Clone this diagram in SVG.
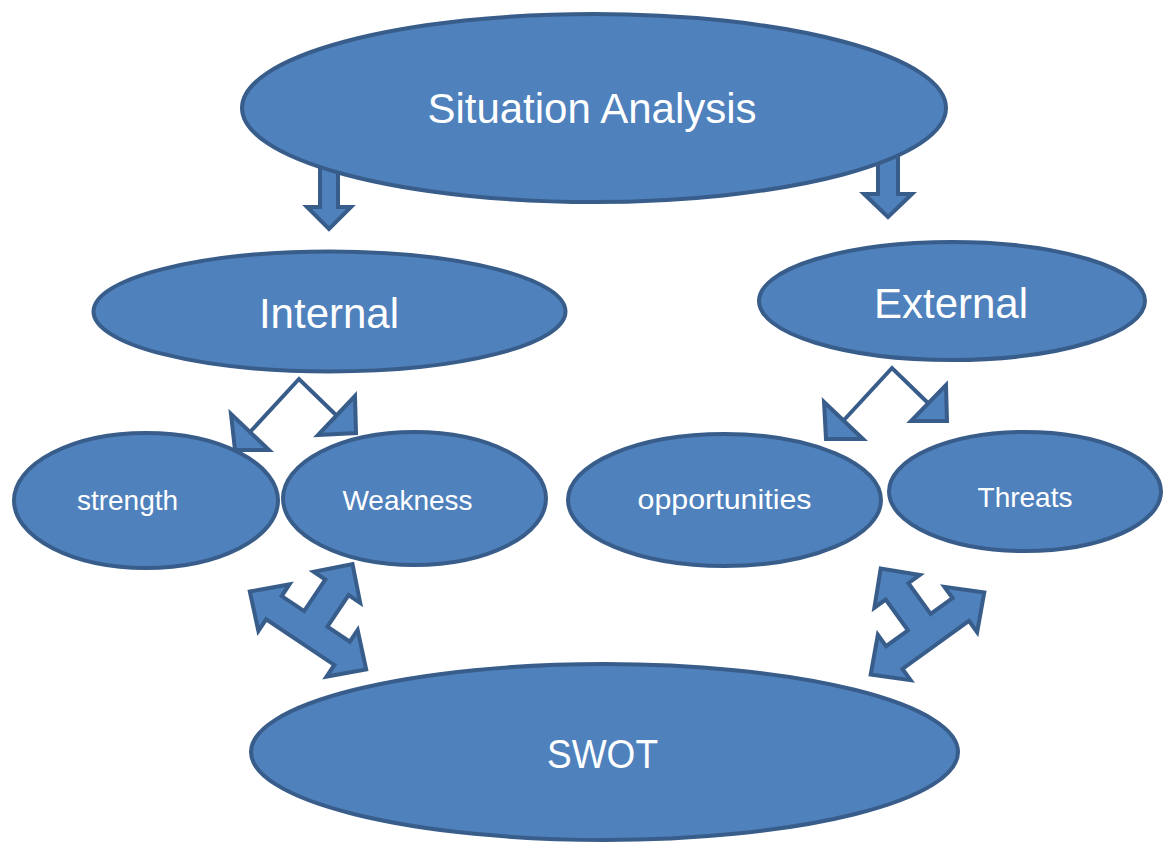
<svg xmlns="http://www.w3.org/2000/svg" width="1168" height="843" viewBox="0 0 1168 843">
<style>
.shape{fill:#4F81BD;stroke:#385D8A;stroke-width:4;stroke-linejoin:miter}
.line{fill:none;stroke:#385D8A;stroke-width:4;stroke-linejoin:miter}
.lbl{font-family:"Liberation Sans",Arial,sans-serif;fill:#FFFFFF;text-anchor:middle}
</style>
<defs>
<polygon id="ylr" points="-70,0 -41,-28 -41,-14 -14,-14 -14,-52 -28,-52 0,-80 28,-52 14,-52 14,-14 41,-14 41,-28 70,0 41,28 41,14 -41,14 -41,28"/>
</defs>
<rect width="1168" height="843" fill="#FFFFFF"/>
<g id="connectors">
<polygon class="shape" points="320,160 338,160 338,207 351,207 329,229 307,207 320,207"/>
<polygon class="shape" points="878,150 898,150 898,194 912,194 888,217 864,194 878,194"/>
</g>
<g id="situation">
<ellipse class="shape" cx="594" cy="108" rx="352" ry="94"/>
<text class="lbl" x="592" y="123" font-size="42">Situation Analysis</text>
</g>
<g id="internal">
<ellipse class="shape" cx="329.5" cy="311.5" rx="236" ry="60"/>
<text class="lbl" x="329" y="328" font-size="42">Internal</text>
</g>
<g id="external">
<ellipse class="shape" cx="952" cy="301" rx="193" ry="59"/>
<text class="lbl" x="951" y="318" font-size="42">External</text>
</g>
<g id="strength">
<ellipse class="shape" cx="146" cy="500.5" rx="132" ry="67.5"/>
<text class="lbl" x="127.5" y="510" font-size="28">strength</text>
</g>
<g id="weakness">
<ellipse class="shape" cx="414.5" cy="498.5" rx="131.5" ry="66.5"/>
<text class="lbl" x="407.5" y="510" font-size="28">Weakness</text>
</g>
<g id="opportunities">
<ellipse class="shape" cx="724.5" cy="500" rx="156.5" ry="66"/>
<text class="lbl" x="724.5" y="509" font-size="28" textLength="174" lengthAdjust="spacingAndGlyphs">opportunities</text>
</g>
<g id="threats">
<ellipse class="shape" cx="1025" cy="491.5" rx="136" ry="59.5"/>
<text class="lbl" x="1025" y="507" font-size="28">Threats</text>
</g>
<g id="swot">
<ellipse class="shape" cx="604.5" cy="752" rx="353.5" ry="88"/>
<text class="lbl" x="602.5" y="768" font-size="40" textLength="111" lengthAdjust="spacingAndGlyphs">SWOT</text>
</g>
<g id="connectors-2">
<polyline class="line" points="251,431 299,379 336,415"/>
<polygon class="shape" points="231,414 235,450 269,450"/>
<polygon class="shape" points="355,396 356,433 318,435"/>
<polyline class="line" points="844,420 892,368 928,403"/>
<polygon class="shape" points="824,402 826,439 863,439"/>
<polygon class="shape" points="946,385 947,421 911,421"/>
<use href="#ylr" class="shape" transform="translate(308,630.5) rotate(33.8)"/>
<use href="#ylr" class="shape" transform="translate(927.5,633.5) rotate(-35.8)"/>
</g>
</svg>
